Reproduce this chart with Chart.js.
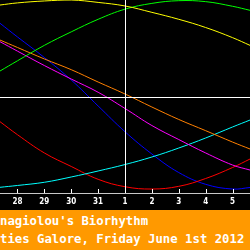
<!DOCTYPE html>
<html>
<head>
<meta charset="utf-8">
<script src="https://cdn.jsdelivr.net/npm/chart.js@4.4.1/dist/chart.umd.min.js"></script>
<style>
  html, body { margin: 0; padding: 0; background: #000; width: 250px; height: 250px; overflow: hidden; }
  #chart { display: block; }
  #caption { position: absolute; left: 0; top: 210px; width: 250px; height: 40px; background: #ff9900; overflow: hidden; }
  #caption div { position: absolute; left: 0; color: #fff; white-space: nowrap;
    font: bold 12.3px/14px "DejaVu Sans Mono", monospace; }
</style>
</head>
<body>
<canvas id="chart" width="250" height="212"></canvas>
<div id="caption">
  <div style="top:4px">nagiolou's Biorhythm</div>
  <div style="top:22px">ties Galore, Friday June 1st 2012</div>
</div>
<script>
"use strict";

// day numbers along the x axis (May 27 .. June 5, June days continue as 32, 33 ...)
const days = [27.35, 28, 29, 30, 31, 32, 33, 34, 35, 36, 36.65];
const tickDays = [28, 29, 30, 31, 32, 33, 34, 35, 36];
const tickLabels = ["28", "29", "30", "31", "1", "2", "3", "4", "5"];
const today = 32;

// cycle values, -1 .. 1
const yellow  = [0.948, 0.97, 0.99, 1.0, 0.975, 0.938, 0.872, 0.8, 0.715, 0.61, 0.53];
const green   = [0.264, 0.37, 0.53, 0.67, 0.8, 0.905, 0.965, 0.993, 0.983, 0.935, 0.893];
const blue    = [0.759, 0.617, 0.404, 0.171, -0.098, -0.365, -0.596, -0.788, -0.91, -0.959, -0.943];
const orange  = [0.585, 0.508, 0.389, 0.278, 0.15, 0.026, -0.109, -0.238, -0.354, -0.472, -0.544];
const magenta = [0.568, 0.47, 0.321, 0.181, 0.044, -0.124, -0.301, -0.446, -0.585, -0.71, -0.762];
const red     = [-0.261, -0.396, -0.585, -0.725, -0.858, -0.935, -0.959, -0.931, -0.85, -0.736, -0.648];
const cyan    = [-0.941, -0.922, -0.889, -0.834, -0.772, -0.705, -0.627, -0.534, -0.43, -0.316, -0.244];

const series = [
  { data: yellow, color: "#ffff00" },
  { data: green, color: "#00ff00" },
  { data: orange, color: "#ff8000" },
  { data: magenta, color: "#ff00ff" },
  { data: cyan, color: "#00ffff" },
  { data: red, color: "#ff0000" },
  { data: blue, color: "#0000ff" },
];

// white crosshair on today / zero, plus the little ticks standing on the axis
const crosshair = {
  id: "crosshair",
  afterDatasetsDraw(chart) {
    const { ctx, chartArea: a, scales: { x, y } } = chart;
    const px = Math.round(x.getPixelForValue(today)) + 0.5;
    const py = Math.round(y.getPixelForValue(0)) + 0.5;
    ctx.save();
    ctx.strokeStyle = "#fff";
    ctx.lineWidth = 1;
    ctx.beginPath();
    ctx.moveTo(px, a.top);
    ctx.lineTo(px, a.bottom);
    ctx.moveTo(a.left, py);
    ctx.lineTo(a.right, py);
    for (const d of tickDays) {
      const tx = Math.round(x.getPixelForValue(d)) + 0.5;
      ctx.moveTo(tx, a.bottom - 4);
      ctx.lineTo(tx, a.bottom);
    }
    ctx.stroke();
    ctx.restore();
  }
};

const datasets = series.map(s => ({
  data: s.data.map((v, i) => ({ x: days[i], y: v })),
  borderColor: s.color,
  borderWidth: 1,
  pointRadius: 0,
  tension: 0.4,
  fill: false,
}));

const canvas = document.querySelector("#chart");
new Chart(canvas, {
  type: "line",
  data: { datasets: datasets },
  options: {
    responsive: false,
    animation: false,
    layout: { padding: { left: 0, right: 0, top: 0, bottom: 1 } },
    plugins: { legend: { display: false }, tooltip: { enabled: false } },
    scales: {
      x: {
        type: "linear",
        min: days[0],
        max: days[days.length - 1],
        afterBuildTicks: axis => { axis.ticks = tickDays.map(v => ({ value: v })); },
        ticks: {
          color: "#fff",
          padding: 4.2,
          maxRotation: 0,
          autoSkip: false,
          font: { family: "'Liberation Sans Narrow', 'DejaVu Sans Condensed', sans-serif", size: 8, weight: "bold" },
          callback: (value, index) => tickLabels[index],
        },
        grid: { drawOnChartArea: false, drawTicks: false },
        border: { color: "#c8c8c8", width: 1 },
      },
      y: { display: false, min: -1, max: 1 },
    },
  },
  plugins: [crosshair],
});
</script>
</body>
</html>
